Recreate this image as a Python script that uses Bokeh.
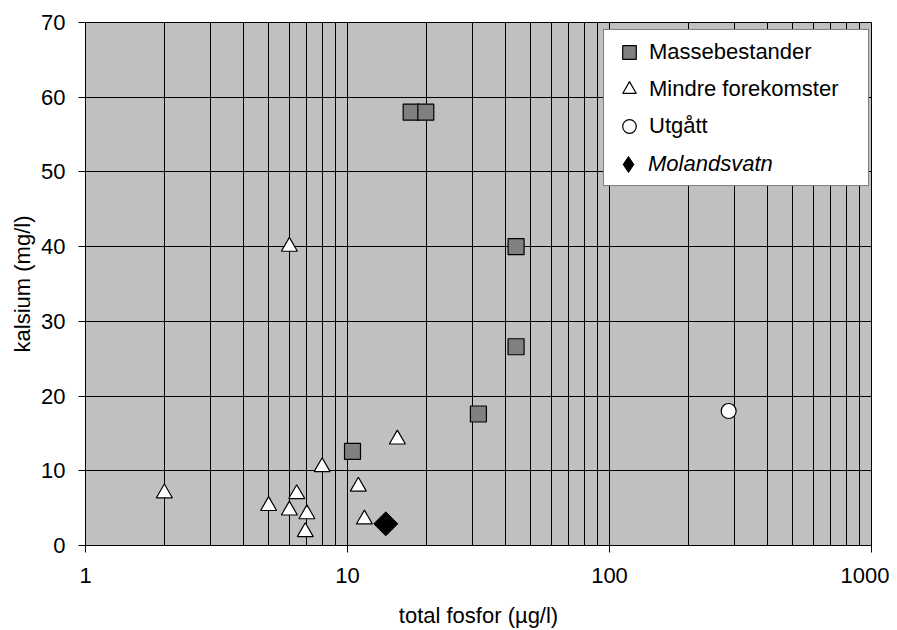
import numpy as np
from bokeh.plotting import figure
from bokeh.models import Range1d, FixedTicker, PrintfTickFormatter, Legend, LegendItem
from bokeh.embed import file_html
from bokeh.resources import INLINE

FONT = "Liberation Sans"

# --- data ---
mass_x = [17.5, 19.9, 44.0, 44.0, 31.6, 10.45]
mass_y = [58.0, 58.0, 40.0, 26.6, 17.6, 12.6]

mindre_x = [2.0, 6.0, 5.0, 6.0, 6.4, 7.0, 6.9, 8.0, 11.0, 11.6, 15.5]
mindre_y = [7.0, 40.0, 5.3, 4.7, 6.9, 4.2, 1.8, 10.5, 7.9, 3.5, 14.2]

utgatt_x = [285.0]
utgatt_y = [18.0]

moland_x = [14.0]
moland_y = [2.9]

labels = ["Massebestander", "Mindre forekomster", "Utgått", "Molandsvatn"]

x_ticks = [1, 10, 100, 1000]
x_minor = [m * 10 ** e for e in range(3) for m in range(2, 10)]
y_ticks = [0, 10, 20, 30, 40, 50, 60, 70]

p = figure(width=889, height=630, x_axis_type="log",
           x_range=Range1d(1, 1000), y_range=Range1d(0, 70),
           output_backend="svg", toolbar_location=None,
           min_border_left=85, min_border_right=18,
           min_border_top=22, min_border_bottom=84)
p.background_fill_color = "#C0C0C0"
p.border_fill_color = "white"
p.outline_line_color = "black"
p.outline_line_width = 1

p.xaxis.ticker = FixedTicker(ticks=x_ticks, minor_ticks=x_minor)
p.xaxis.formatter = PrintfTickFormatter(format="%d")
p.yaxis.ticker = FixedTicker(ticks=y_ticks)

for ax in (p.xaxis[0], p.yaxis[0]):
    ax.major_tick_out = 7
    ax.major_tick_in = 0
    ax.minor_tick_line_color = None
    ax.axis_line_color = "black"
    ax.major_tick_line_color = "black"
    ax.major_label_text_font = FONT
    ax.major_label_text_font_size = "22px"
    ax.major_label_text_color = "black"
    ax.axis_label_text_font = FONT
    ax.axis_label_text_font_size = "22px"
    ax.axis_label_text_font_style = "normal"
    ax.axis_label_text_color = "black"

p.xaxis.axis_label = "total fosfor (µg/l)"
p.yaxis.axis_label = "kalsium (mg/l)"
p.xaxis.major_label_standoff = 15
p.xaxis.axis_label_standoff = 17
p.yaxis.major_label_standoff = 13
p.yaxis.axis_label_standoff = 3

p.xgrid.grid_line_color = "black"
p.xgrid.minor_grid_line_color = "black"
p.ygrid.grid_line_color = "black"

r_mass = p.scatter(mass_x, mass_y, marker="square", size=16,
                   fill_color="#808080", line_color="black", line_width=1.2)
r_mindre = p.scatter(mindre_x, mindre_y, marker="triangle", size=16,
                     fill_color="white", line_color="black", line_width=1.2)
r_utg = p.scatter(utgatt_x, utgatt_y, marker="circle", size=15,
                  fill_color="white", line_color="black", line_width=1.2)
# legend proxy for Molandsvatn (tiny, hidden under the real marker)
r_mol_leg = p.scatter(moland_x, moland_y, marker="diamond", size=0.5,
                      fill_color="black", line_color="black", line_width=1)
r_mol = p.scatter(moland_x, moland_y, marker="square", angle=np.pi / 4, size=17,
                  fill_color="black", line_color="black", line_width=1)
r_blank = p.scatter(moland_x, moland_y, marker="circle", size=0.5,
                    fill_alpha=0, line_alpha=0)

font_kw = dict(label_text_font=FONT, label_text_font_size="22px",
               label_text_color="black", margin=0)

legend1 = Legend(items=[LegendItem(label=labels[0], renderers=[r_mass]),
                        LegendItem(label=labels[1], renderers=[r_mindre]),
                        LegendItem(label=labels[2], renderers=[r_utg]),
                        LegendItem(label=" ", renderers=[r_blank])],
                 padding=5, spacing=3, glyph_width=40, glyph_height=34,
                 label_height=34, label_standoff=0, label_width=214,
                 border_line_color="black", border_line_width=1,
                 background_fill_color="white", background_fill_alpha=1.0,
                 location=(518, 359), **font_kw)
legend2 = Legend(items=[LegendItem(label=labels[3], renderers=[r_mol_leg])],
                 padding=0, spacing=0, glyph_width=40, glyph_height=40,
                 label_height=40, label_standoff=0, label_width=210,
                 border_line_color=None, background_fill_alpha=0.0,
                 label_text_font_style="italic",
                 location=(523, 361), **font_kw)
p.add_layout(legend1)
p.add_layout(legend2)

open("out.html", "w").write(file_html(p, INLINE))
